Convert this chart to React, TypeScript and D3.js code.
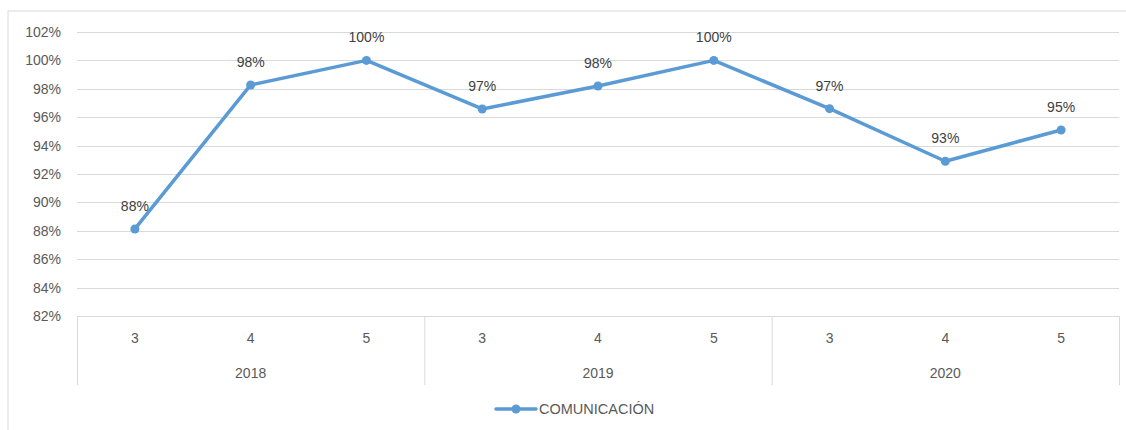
import React from "react";
import * as d3 from "d3";

const years = ["2018", "2019", "2020"];
const months = ["3", "4", "5"];
const categories = ["2018-3", "2018-4", "2018-5", "2019-3", "2019-4", "2019-5", "2020-3", "2020-4", "2020-5"];
const values = [0.8813, 0.9827, 1.0, 0.9658, 0.982, 1.0, 0.9660, 0.929, 0.951];
const labels = ["88%", "98%", "100%", "97%", "98%", "100%", "97%", "93%", "95%"];
const yTicks = [0.82, 0.84, 0.86, 0.88, 0.9, 0.92, 0.94, 0.96, 0.98, 1.0, 1.02];
const seriesName = "COMUNICACIÓN";

const W = 1126;
const H = 430;
const left = 77;
const right = 1119;
const top = 32;
const bottom = 316;
const axisBottom = 385;
const lineColor = "#5B9BD5";
const gridColor = "#D9D9D9";
const textColor = "#595959";
const font = "'Liberation Sans', Arial, sans-serif";

export default function App() {
  const x = d3.scaleBand<string>().domain(categories).range([left, right]);
  const y = d3.scaleLinear().domain([0.82, 1.02]).range([bottom, top]);
  const line = d3
    .line<number>()
    .x((_, i) => (x(categories[i]) as number) + x.bandwidth() / 2)
    .y((d) => y(d));
  const fmt = d3.format(".0%");
  const groupW = x.bandwidth() * months.length;

  return (
    <svg width={W} height={H} style={{ position: "absolute", left: 0, top: 0, background: "#fff" }}>
      <rect x={8} y={11} width={1125} height={440} fill="#fff" stroke={gridColor} strokeWidth={1} />
      {yTicks.map((t) => (
        <g key={t}>
          {t > 0.82 && (
            <line x1={left} x2={right} y1={Math.round(y(t)) + 0.5} y2={Math.round(y(t)) + 0.5} stroke={gridColor} strokeWidth={1} />
          )}
          <text x={61} y={y(t)} dy="0.35em" textAnchor="end" fontFamily={font} fontSize={14} fill={textColor}>
            {fmt(t)}
          </text>
        </g>
      ))}
      {/* category axis */}
      <line x1={left} x2={right} y1={bottom + 0.5} y2={bottom + 0.5} stroke={gridColor} />
      {d3.range(years.length + 1).map((i) => (
        <line
          key={i}
          x1={left + i * groupW + 0.5}
          x2={left + i * groupW + 0.5}
          y1={bottom}
          y2={axisBottom}
          stroke={gridColor}
        />
      ))}
      {categories.map((c, i) => (
        <text
          key={c}
          x={(x(c) as number) + x.bandwidth() / 2}
          y={338}
          dy="0.35em"
          textAnchor="middle"
          fontFamily={font}
          fontSize={14}
          fill={textColor}
        >
          {months[i % months.length]}
        </text>
      ))}
      {years.map((yr, i) => (
        <text
          key={yr}
          x={left + i * groupW + groupW / 2}
          y={373}
          dy="0.35em"
          textAnchor="middle"
          fontFamily={font}
          fontSize={14}
          fill={textColor}
        >
          {yr}
        </text>
      ))}
      <path d={line(values) as string} fill="none" stroke={lineColor} strokeWidth={3.5} strokeLinejoin="round" strokeLinecap="round" />
      {values.map((v, i) => {
        const cx = (x(categories[i]) as number) + x.bandwidth() / 2;
        return (
          <g key={i}>
            <circle cx={cx} cy={y(v)} r={4.5} fill={lineColor} />
            <text x={cx} y={y(v) - 23} dy="0.35em" textAnchor="middle" fontFamily={font} fontSize={14} fill="#404040">
              {labels[i]}
            </text>
          </g>
        );
      })}
      {/* legend */}
      <line x1={496} x2={536} y1={409} y2={409} stroke={lineColor} strokeWidth={3.5} strokeLinecap="round" />
      <circle cx={516} cy={409} r={4.5} fill={lineColor} />
      <text x={539} y={409} dy="0.35em" fontFamily={font} fontSize={14.5} fill={textColor}>
        {seriesName}
      </text>
    </svg>
  );
}
